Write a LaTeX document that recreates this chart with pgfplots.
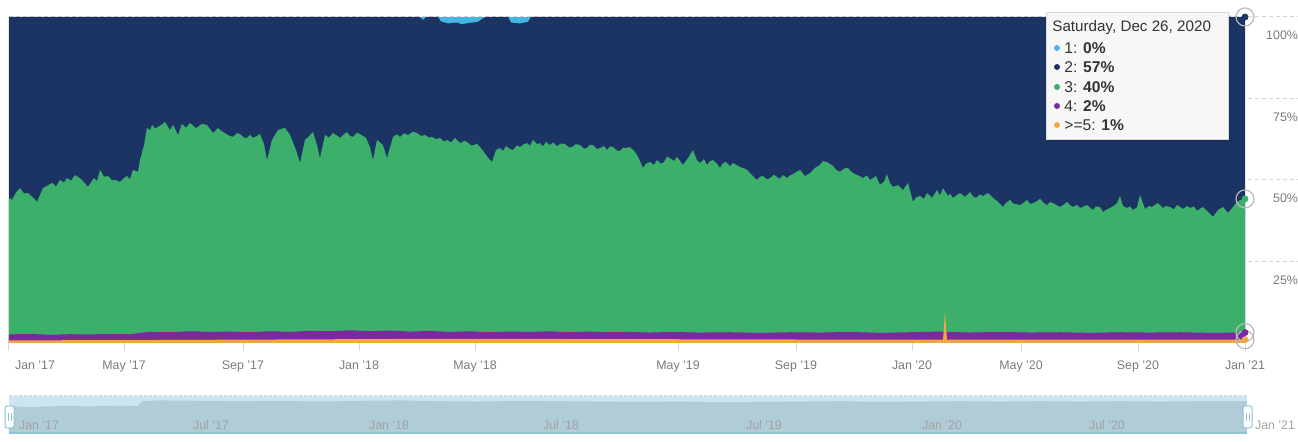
\documentclass[border=0pt]{standalone}
\usepackage{pgfplots}
\pgfplotsset{compat=1.18}
\usepackage{pgfplotstable}
\usepackage{fontspec}
\setmainfont{Liberation Sans}

\definecolor{navyc}{HTML}{1C3464}
\definecolor{greenc}{HTML}{3CB06B}
\definecolor{purplec}{HTML}{7A2A9C}
\definecolor{orangec}{HTML}{F2A541}
\definecolor{lbluec}{HTML}{45B6E3}
\definecolor{tickc}{HTML}{CCD6EB}
\definecolor{labc}{HTML}{7A7A7A}
\definecolor{navband}{HTML}{CBE6F1}
\definecolor{navarea}{HTML}{B0CCD6}
\definecolor{navline}{HTML}{8EC3D8}

\newlength\px \setlength\px{0.5pt}

% cumulative top of layer 3 (3 + 4 + >=5), x in screen units of the ordinal axis
\pgfplotstableread{
x v
9 44.5
12 43.9
16 46.2
20 47.5
24 45.9
28 46.0
33 44.6
37 43.3
43 47.5
47 48.2
52 49.1
56 48.0
60 50.0
64 49.2
67 50.6
71 49.8
75 51.5
79 50.7
82 50.0
88 47.9
94 50.6
97 49.6
100 53.1
104 51.0
108 51.2
112 49.9
115 50.0
120 49.4
124 50.6
127 51.2
130 50.3
133 53.1
138 52.5
140 56.1
144 60.7
147 66.0
150 65.2
152 66.9
155 65.8
158 66.3
162 67.0
165 67.8
170 65.3
173 66.9
178 63.8
182 67.2
186 66.0
190 67.5
196 65.9
202 67.2
207 66.9
213 64.4
218 65.9
222 64.9
225 64.4
229 63.6
233 63.2
237 64.4
240 64.1
244 63.0
247 62.9
250 63.8
253 62.9
257 63.5
260 64.1
264 61.0
267 56.1
272 62.3
278 65.3
285 66.0
290 63.8
296 59.2
300 55.2
305 62.3
309 63.4
313 64.7
317 60.7
320 56.7
325 63.8
329 63.0
333 64.4
337 63.6
340 62.9
344 64.0
347 64.7
350 63.5
353 63.2
357 64.5
360 64.1
366 62.9
370 60.0
373 56.1
377 62.3
383 60.7
387 56.7
393 63.2
397 64.0
400 63.2
404 64.3
408 63.8
413 64.8
417 64.4
421 63.5
425 63.8
429 63.0
432 63.2
436 62.5
440 62.9
444 61.8
447 62.3
451 61.5
455 62.9
458 61.9
461 61.3
464 62.0
467 61.7
471 60.6
474 60.7
477 61.2
480 60.1
483 59.0
486 57.7
489 56.5
492 55.5
496 59.2
500 59.8
503 58.9
506 60.4
510 59.5
513 59.2
517 60.6
520 60.1
524 61.0
527 61.3
530 60.5
533 62.3
537 61.0
540 61.3
543 60.3
546 61.7
550 60.7
553 61.5
557 60.4
561 61.2
565 61.0
569 60.0
572 60.1
576 61.0
580 60.7
584 59.6
587 59.8
590 60.8
593 60.7
597 59.5
600 59.8
604 60.4
607 59.2
610 60.3
613 60.1
617 59.0
620 58.9
623 59.9
626 59.8
630 60.1
635 58.6
638 57.1
643 53.7
646 55.0
650 55.5
654 54.6
657 56.1
661 55.0
664 55.5
667 57.2
670 56.7
674 55.8
677 57.1
683 54.6
688 56.7
693 59.2
697 56.0
700 55.2
704 56.4
707 54.6
710 55.8
713 56.1
717 55.0
720 53.7
723 55.2
726 55.5
730 54.2
733 55.2
737 54.5
740 54.0
744 53.6
747 53.1
752 51.5
757 50.0
760 51.0
763 51.2
767 50.2
770 50.6
774 51.6
777 50.9
780 50.4
783 51.5
787 50.6
790 51.4
793 51.8
797 52.6
800 53.1
805 51.2
810 52.1
815 53.7
820 54.6
823 55.8
827 55.5
833 54.3
836 53.1
840 52.5
844 53.5
848 53.7
851 52.6
855 51.8
859 51.3
863 50.6
867 51.4
870 50.0
876 51.2
880 48.5
884 49.5
887 51.8
890 49.0
893 47.9
898 48.4
903 46.9
908 49.1
913 43.3
916 44.6
920 45.1
924 44.2
927 46.0
932 44.5
937 46.9
940 45.2
943 47.5
948 45.1
950 45.8
953 44.5
957 45.4
960 46.0
965 44.8
970 46.3
973 45.0
976 44.5
980 45.6
983 45.1
988 46.0
993 44.5
998 43.3
1003 41.7
1006 43.0
1010 43.9
1013 42.8
1016 42.6
1020 42.3
1024 43.1
1027 43.9
1030 42.7
1033 42.9
1037 43.5
1040 44.2
1044 42.9
1047 42.3
1050 43.2
1053 42.9
1057 42.2
1060 41.7
1064 42.5
1067 43.3
1070 42.3
1073 41.7
1077 42.4
1080 41.4
1084 41.9
1087 42.3
1090 41.5
1093 40.8
1096 41.9
1100 41.7
1103 40.2
1107 41.0
1110 41.4
1114 42.1
1117 42.9
1120 45.1
1123 42.0
1127 41.4
1130 41.9
1133 40.8
1137 41.6
1140 45.4
1145 41.1
1149 42.0
1152 41.7
1155 42.4
1158 42.9
1163 41.4
1166 42.0
1170 41.7
1174 41.0
1177 42.3
1180 41.8
1183 41.1
1187 42.0
1190 41.4
1194 41.9
1197 40.5
1200 41.2
1203 41.7
1208 40.2
1213 38.7
1218 40.8
1223 41.7
1228 39.9
1233 41.7
1237 43.3
1241 43.9
1245 44.2
}\greentop

% cumulative top of layer 4 (4 + >=5)
\pgfplotstableread{
x v
9 2.6
30 2.8
50 2.5
70 2.7
90 2.6
110 2.8
130 2.7
140 3.1
150 3.4
170 3.3
190 3.6
210 3.4
230 3.5
250 3.3
270 3.6
290 3.4
310 3.7
330 3.6
350 3.9
370 3.6
390 3.8
410 3.5
430 3.7
450 3.4
470 3.6
490 3.3
510 3.5
530 3.4
550 3.6
570 3.3
590 3.5
610 3.3
630 3.4
650 3.2
670 3.4
700 3.2
730 3.3
760 3.1
790 3.3
820 3.2
850 3.4
880 3.1
910 3.3
940 3.5
970 3.2
1000 3.4
1030 3.2
1060 3.3
1090 3.1
1120 3.3
1150 3.2
1180 3.3
1210 3.1
1245 3.2
}\purpletop

% layer >=5
\pgfplotstableread{
x v
9 0.8
140 0.9
300 1.1
450 1.3
600 1.2
900 1.0
943 1.0
945 9.5
947 1.0
1245 1.0
}\orangetop

% top of layer 2 (100 minus layer 1)
\pgfplotstableread{
x v
9 100
420 100
423 99.0
426 100
438 100
441 98.6
448 98.0
456 98.3
462 97.8
470 98.2
478 98.5
483 99.6
486 100
508 100
511 98.3
520 98.0
528 98.5
531 100
1245 100
}\navytop

% navigator series
\pgfplotstableread{
x v
9 72
30 70
60 73
90 72
120 74
138 73
142 86
160 88
200 87
240 86
280 87
320 85
360 87
400 88
440 86
480 85
520 87
560 86
600 85
640 84
680 85
720 83
760 84
800 85
840 86
880 84
920 85
960 86
1000 85
1040 86
1080 85
1120 86
1160 85
1200 86
1247 86
}\navdata

\begin{document}
\begin{tikzpicture}
\useasboundingbox (0,0) rectangle (1298\px,442\px);

\begin{axis}[
  at={(9\px,99\px)}, anchor=south west, scale only axis,
  width=1289\px, height=326\px,
  xmin=9, xmax=1298, ymin=0, ymax=100,
  axis x line*=bottom, axis y line*=right,
  axis line style={draw=none},
  tick align=outside, major tick length=8\px,
  xtick={124,243,359,475,678,796,912,1021,1138,1245},
  xticklabels={May '17,Sep '17,Jan '18,May '18,May '19,Sep '19,Jan '20,May '20,Sep '20,Jan '21},
  extra x ticks={9}, extra x tick labels={Jan '17},
  extra x tick style={grid=none, xticklabel style={anchor=north west, xshift=-1\px}},
  xtick style={draw=tickc, line width=1\px},
  xticklabel style={yshift=-3\px},
  ytick={25,50,75,100},
  yticklabels={25\%,50\%,75\%,100\%},
  ytick style={draw=none},
  yticklabel style={anchor=north east, xshift=-1\px, yshift=-7\px},
  ymajorgrids, grid style={draw=gray!35, line width=1\px, dash pattern=on 4\px off 3\px},
  tick label style={font=\fontsize{6.2}{7}\selectfont, text=labc},
]
\addplot[fill=lbluec, draw=none] coordinates {(9,100) (1245,100)} \closedcycle;
\addplot[fill=navyc, draw=none] table[x=x, y=v] {\navytop} \closedcycle;
\addplot[fill=greenc, draw=none] table[x=x, y=v] {\greentop} \closedcycle;
\addplot[fill=purplec, draw=none] table[x=x, y=v] {\purpletop} \closedcycle;
\addplot[fill=orangec, draw=none] table[x=x, y=v] {\orangetop} \closedcycle;
% hover halos on the last point
\addplot[only marks, mark=o, mark size=9\px, mark options={draw=gray!55, line width=1.2\px}]
  coordinates {(1245,100) (1245,44.2) (1245,3.2) (1245,1.0)};
\addplot[only marks, mark=*, mark size=3\px, mark options={draw=navyc, fill=navyc}] coordinates {(1245,100)};
\addplot[only marks, mark=*, mark size=3\px, mark options={draw=greenc, fill=greenc}] coordinates {(1245,44.2)};
\addplot[only marks, mark=*, mark size=3\px, mark options={draw=purplec, fill=purplec}] coordinates {(1245,3.2)};
\addplot[only marks, mark=*, mark size=3\px, mark options={draw=orangec, fill=orangec}] coordinates {(1245,1.0)};
\end{axis}

% navigator
\begin{axis}[
  at={(9\px,9\px)}, anchor=south west, scale only axis,
  width=1238\px, height=37\px,
  xmin=9, xmax=1247, ymin=0, ymax=100,
  axis on top,
  axis line style={draw=none},
  axis background/.style={fill=navband},
  ytick=\empty,
  xtick={9,183,359,533,736,912,1079,1245},
  xticklabels={Jan '17,Jul '17,Jan '18,Jul '18,Jul '19,Jan '20,Jul '20,Jan '21},
  xtick style={draw=none},
  xticklabel style={anchor=south west, xshift=3\px, yshift=-4\px,
    font=\fontsize{6.2}{7}\selectfont, text=labc!70},
  clip=false,
]
\addplot[fill=navarea, draw=none] table[x=x, y=v] {\navdata} \closedcycle;
\draw[draw=gray!35, line width=1\px, dash pattern=on 3\px off 2\px] (axis cs:9,100) -- (axis cs:1247,100);
\draw[draw=navline, line width=2\px] (axis cs:9,0) -- (axis cs:1247,0);
\end{axis}

% navigator handles
\draw[rounded corners=2\px, fill=white, draw=navline, line width=1\px] (5\px,14\px) rectangle (14\px,36\px);
\draw[draw=navline, line width=1\px] (8\px,21\px) -- (8\px,29\px) (11\px,21\px) -- (11\px,29\px);
\draw[rounded corners=2\px, fill=white, draw=navline, line width=1\px] (1243\px,14\px) rectangle (1252\px,36\px);
\draw[draw=navline, line width=1\px] (1246\px,21\px) -- (1246\px,29\px) (1249\px,21\px) -- (1249\px,29\px);

% tooltip
\fill[black, opacity=0.08] (1048\px,300\px) rectangle (1231\px,427\px);
\draw[fill=gray!6, draw=gray!30, line width=1\px] (1046\px,302\px) rectangle (1228\px,429\px);
\node[anchor=west, inner sep=0pt, font=\fontsize{7.6}{9}\selectfont, text=black!80] at (1052\px,414\px) {Saturday, Dec 26, 2020};
\fill[lbluec] (1057\px,394\px) circle (3\px);
\fill[navyc] (1057\px,375\px) circle (3\px);
\fill[greenc] (1057\px,355\px) circle (3\px);
\fill[purplec] (1057\px,336\px) circle (3\px);
\fill[orangec] (1057\px,317\px) circle (3\px);
\begin{scope}[every node/.style={anchor=west, inner sep=0pt, font=\fontsize{7.8}{9}\selectfont, text=black!80}]
\node at (1064\px,394\px) {1: \textbf{0\%}};
\node at (1064\px,375\px) {2: \textbf{57\%}};
\node at (1064\px,355\px) {3: \textbf{40\%}};
\node at (1064\px,336\px) {4: \textbf{2\%}};
\node at (1064\px,317\px) {>=5: \textbf{1\%}};
\end{scope}
\end{tikzpicture}
\end{document}
